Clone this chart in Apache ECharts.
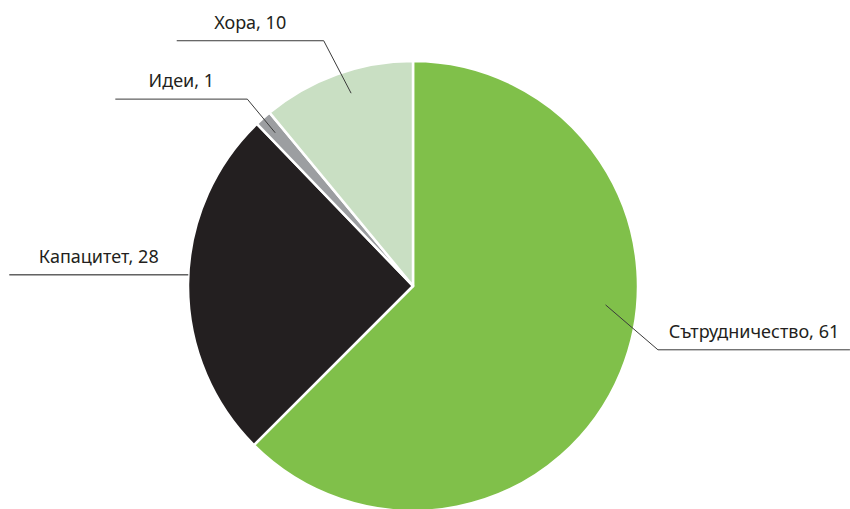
<!DOCTYPE html>
<html lang="bg">
<head>
<meta charset="utf-8">
<script src="https://cdn.jsdelivr.net/npm/echarts@6/dist/echarts.min.js"></script>
<style>
html,body{margin:0;padding:0;background:#fff;}
#chart{width:850px;height:509px;}
</style>
</head>
<body>
<div id="chart" lang="bg"></div>
<script>
// Data
const categories = ['Сътрудничество', 'Капацитет', 'Идеи', 'Хора'];
// values printed in the labels
const labelValues = [61, 28, 1, 10];
// slice shares as drawn in the reference (measured from the slice angles)
const sliceShares = [62.5, 25.3, 1.2, 11.0];
const colors = ['#80c04a', '#231f20', '#9c9ea1', '#c9dfc3'];

// Leader line layout (angle offsets from slice middle in degrees, radius fractions, horizontal run in px)
const leaders = [
  { startOff: -16.9, startR: 0.86, elbowOff: -7.9, elbowR: 1.125, run: 192, color: '#3a3a3a' },
  { startOff: 2.3, startR: 1.0, elbowOff: 2.3, elbowR: 1.0, run: -179, color: '#111111' },
  { startOff: -0.2, startR: 0.916, elbowOff: 0.2, elbowR: 1.11, run: -132, color: '#3a3a3a' },
  { startOff: 2.0, startR: 0.9, elbowOff: -0.2, elbowR: 1.16, run: -147, color: '#3a3a3a' }
];

const CX = 413, CY = 286, R = 225;
const total = sliceShares.reduce((a, b) => a + b, 0);
const midAngles = [];
let acc = 0;
sliceShares.forEach(v => { midAngles.push((acc + v / 2) / total * 360); acc += v; });

function pt(angleDeg, frac) {
  const a = angleDeg * Math.PI / 180;
  return [CX + Math.sin(a) * R * frac, CY - Math.cos(a) * R * frac];
}

const pieData = categories.map((c, i) => ({ name: c, value: sliceShares[i], itemStyle: { color: colors[i] } }));
const FONT = '"Noto Sans", sans-serif';

const chart = echarts.init(document.getElementById('chart'), null, { renderer: 'svg' });
chart.setOption({
  animation: false,
  textStyle: { fontFamily: FONT },
  series: [{
    type: 'pie',
    center: [CX, CY],
    radius: R,
    startAngle: 90,
    clockwise: true,
    silent: true,
    itemStyle: { borderColor: '#ffffff', borderWidth: 2.5 },
    label: { show: false },
    labelLine: { show: false },
    data: pieData
  }, {
    // overlay carrying labels and leader lines above the slices
    type: 'pie',
    center: [CX, CY],
    radius: R,
    startAngle: 90,
    clockwise: true,
    silent: true,
    z: 5,
    avoidLabelOverlap: false,
    itemStyle: { color: 'rgba(0,0,0,0)', borderWidth: 0 },
    label: {
      show: true,
      formatter: p => p.name + ', ' + labelValues[p.dataIndex],
      color: '#231f20',
      fontSize: 18,
      fontFamily: FONT
    },
    labelLine: { show: true, lineStyle: { color: '#3a3a3a', width: 1 } },
    labelLayout: function (params) {
      const i = params.dataIndex;
      const L = leaders[i];
      const m = midAngles[i];
      const s = pt(m + L.startOff, L.startR);
      const e = pt(m + L.elbowOff, L.elbowR);
      const h = [e[0] + L.run, e[1]];
      return {
        x: (e[0] + h[0]) / 2,
        y: e[1] - 19,
        align: 'center',
        verticalAlign: 'middle',
        labelLinePoints: [s, e, h]
      };
    },
    data: categories.map((c, i) => ({
      name: c,
      value: sliceShares[i],
      labelLine: { lineStyle: { color: leaders[i].color } }
    }))
  }]
});
</script>
</body>
</html>
